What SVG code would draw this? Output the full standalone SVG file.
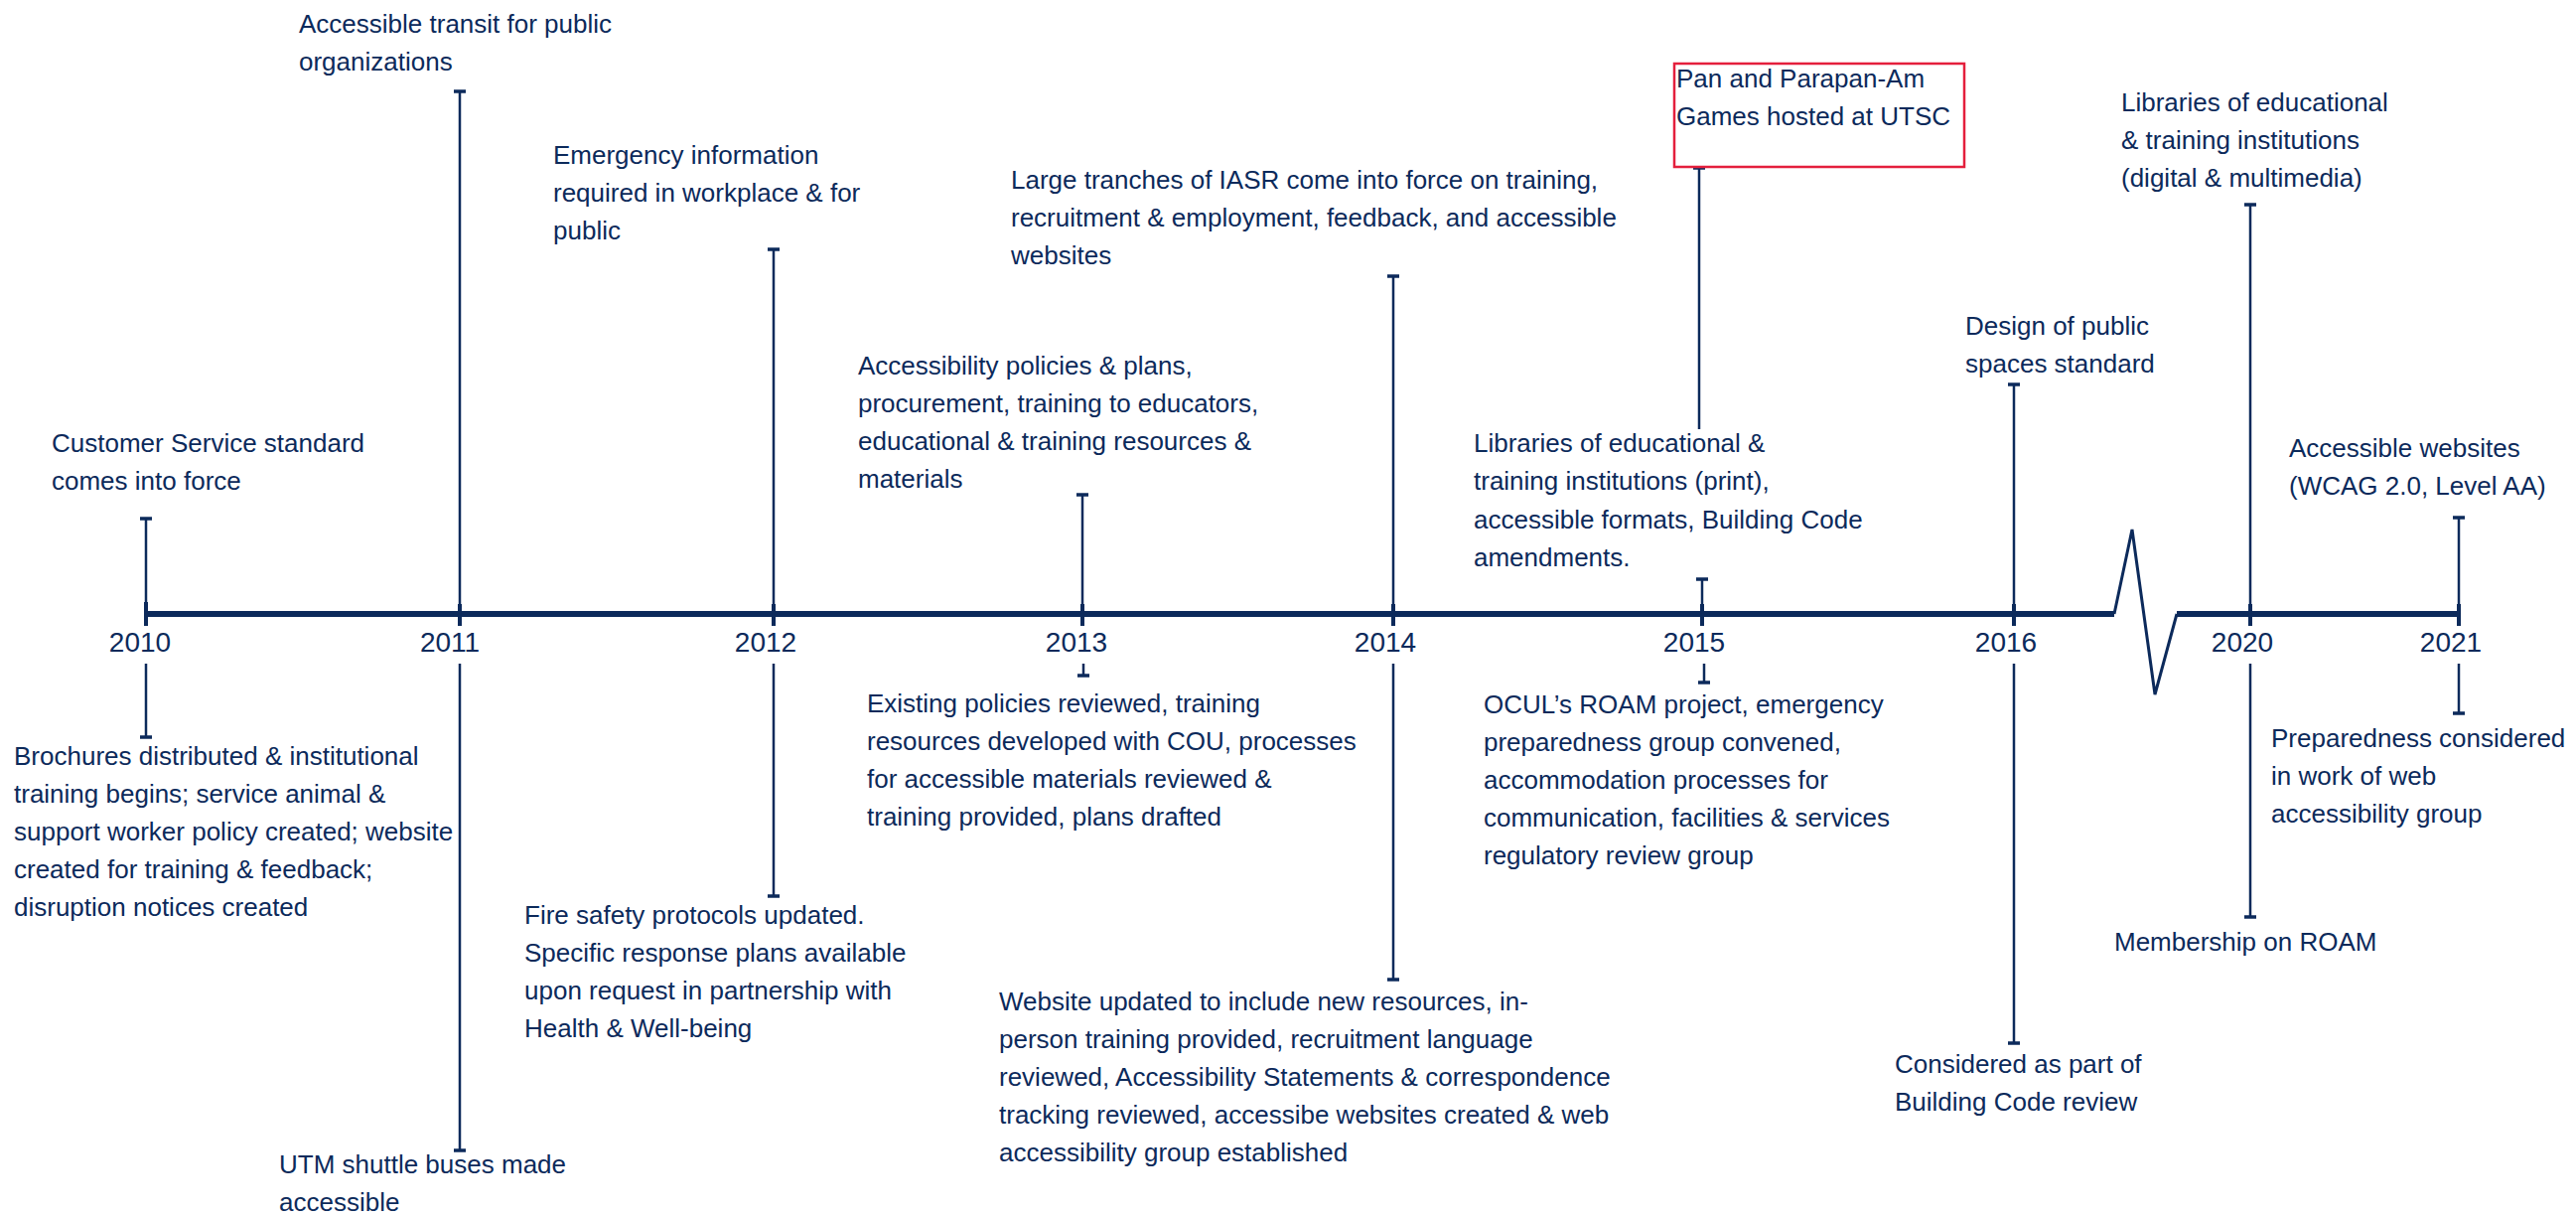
<svg xmlns="http://www.w3.org/2000/svg" width="2594" height="1224" viewBox="0 0 2594 1224">
<style>
.t{font-family:"Liberation Sans",Arial,sans-serif;font-size:26px;fill:#0c2a5b}
.yr{font-family:"Liberation Sans",Arial,sans-serif;font-size:28px;fill:#0c2a5b;text-anchor:middle}
.stem{stroke:#0c2a5b;stroke-width:2.5;fill:none}
.bar{stroke:#0c2a5b;stroke-width:3.5;fill:none}
.axis{stroke:#0c2a5b;stroke-width:6;fill:none}
.tick{stroke:#0c2a5b;stroke-width:4;fill:none}
.brk{stroke:#0c2a5b;stroke-width:3;fill:none;stroke-linejoin:miter}
</style>
<rect width="2594" height="1224" fill="#ffffff"/>

<g id="axis">
  <line class="axis" x1="147" y1="618" x2="2129" y2="618"/>
  <polyline class="brk" points="2129,618 2147,533 2170,699 2192,618"/>
  <line class="axis" x1="2192" y1="618" x2="2476" y2="618"/>
  <g id="ticks">
    <line class="tick" x1="147" y1="606" x2="147" y2="630"/>
    <line class="tick" x1="463" y1="608" x2="463" y2="630"/>
    <line class="tick" x1="779" y1="608" x2="779" y2="630"/>
    <line class="tick" x1="1090" y1="608" x2="1090" y2="630"/>
    <line class="tick" x1="1403" y1="608" x2="1403" y2="630"/>
    <line class="tick" x1="1714" y1="608" x2="1714" y2="630"/>
    <line class="tick" x1="2028" y1="608" x2="2028" y2="630"/>
    <line class="tick" x1="2266" y1="608" x2="2266" y2="630"/>
    <line class="tick" x1="2476" y1="608" x2="2476" y2="630"/>
  </g>
  <g id="years">
    <text class="yr" x="141" y="656">2010</text>
    <text class="yr" x="453" y="656">2011</text>
    <text class="yr" x="771" y="656">2012</text>
    <text class="yr" x="1084" y="656">2013</text>
    <text class="yr" x="1395" y="656">2014</text>
    <text class="yr" x="1706" y="656">2015</text>
    <text class="yr" x="2020" y="656">2016</text>
    <text class="yr" x="2258" y="656">2020</text>
    <text class="yr" x="2468" y="656">2021</text>
  </g>
</g>

<g id="connectors">
  <!-- 2010 -->
  <line class="stem" x1="147" y1="522" x2="147" y2="618"/><line class="bar" x1="141" y1="522" x2="153" y2="522"/>
  <line class="stem" x1="147" y1="668" x2="147" y2="742"/><line class="bar" x1="141" y1="742" x2="153" y2="742"/>
  <!-- 2011 -->
  <line class="stem" x1="463" y1="92" x2="463" y2="618"/><line class="bar" x1="457" y1="92" x2="469" y2="92"/>
  <line class="stem" x1="463" y1="668" x2="463" y2="1158"/><line class="bar" x1="457" y1="1158" x2="469" y2="1158"/>
  <!-- 2012 -->
  <line class="stem" x1="779" y1="251" x2="779" y2="618"/><line class="bar" x1="773" y1="251" x2="785" y2="251"/>
  <line class="stem" x1="779" y1="668" x2="779" y2="902"/><line class="bar" x1="773" y1="902" x2="785" y2="902"/>
  <!-- 2013 -->
  <line class="stem" x1="1090" y1="498" x2="1090" y2="618"/><line class="bar" x1="1084" y1="498" x2="1096" y2="498"/>
  <line class="stem" x1="1091" y1="668" x2="1091" y2="680"/><line class="bar" x1="1085" y1="680" x2="1097" y2="680"/>
  <!-- 2014 -->
  <line class="stem" x1="1403" y1="278" x2="1403" y2="618"/><line class="bar" x1="1397" y1="278" x2="1409" y2="278"/>
  <line class="stem" x1="1403" y1="668" x2="1403" y2="986"/><line class="bar" x1="1397" y1="986" x2="1409" y2="986"/>
  <!-- 2015 -->
  <line class="stem" x1="1711" y1="169" x2="1711" y2="432"/><line class="bar" x1="1705" y1="169" x2="1717" y2="169"/>
  <line class="stem" x1="1714" y1="583" x2="1714" y2="618"/><line class="bar" x1="1708" y1="583" x2="1720" y2="583"/>
  <line class="stem" x1="1716" y1="668" x2="1716" y2="687"/><line class="bar" x1="1710" y1="687" x2="1722" y2="687"/>
  <!-- 2016 -->
  <line class="stem" x1="2028" y1="387" x2="2028" y2="618"/><line class="bar" x1="2022" y1="387" x2="2034" y2="387"/>
  <line class="stem" x1="2028" y1="668" x2="2028" y2="1050"/><line class="bar" x1="2022" y1="1050" x2="2034" y2="1050"/>
  <!-- 2020 -->
  <line class="stem" x1="2266" y1="206" x2="2266" y2="618"/><line class="bar" x1="2260" y1="206" x2="2272" y2="206"/>
  <line class="stem" x1="2266" y1="668" x2="2266" y2="923"/><line class="bar" x1="2260" y1="923" x2="2272" y2="923"/>
  <!-- 2021 -->
  <line class="stem" x1="2476" y1="521" x2="2476" y2="618"/><line class="bar" x1="2470" y1="521" x2="2482" y2="521"/>
  <line class="stem" x1="2476" y1="668" x2="2476" y2="718"/><line class="bar" x1="2470" y1="718" x2="2482" y2="718"/>
</g>

<g id="e2010-above"><text class="t"><tspan x="52" y="455">Customer Service standard</tspan><tspan x="52" y="493">comes into force</tspan></text></g>
<g id="e2010-below"><text class="t"><tspan x="14" y="770">Brochures distributed &amp; institutional</tspan><tspan x="14" y="808">training begins; service animal &amp;</tspan><tspan x="14" y="846">support worker policy created; website</tspan><tspan x="14" y="884">created for training &amp; feedback;</tspan><tspan x="14" y="922">disruption notices created</tspan></text></g>

<g id="e2011-above"><text class="t"><tspan x="301" y="33">Accessible transit for public</tspan><tspan x="301" y="71">organizations</tspan></text></g>
<g id="e2011-below"><text class="t"><tspan x="281" y="1181">UTM shuttle buses made</tspan><tspan x="281" y="1219">accessible</tspan></text></g>

<g id="e2012-above"><text class="t"><tspan x="557" y="165">Emergency information</tspan><tspan x="557" y="203">required in workplace &amp; for</tspan><tspan x="557" y="241">public</tspan></text></g>
<g id="e2012-below"><text class="t"><tspan x="528" y="930">Fire safety protocols updated.</tspan><tspan x="528" y="968">Specific response plans available</tspan><tspan x="528" y="1006">upon request in partnership with</tspan><tspan x="528" y="1044">Health &amp; Well-being</tspan></text></g>

<g id="e2013-above"><text class="t"><tspan x="864" y="377">Accessibility policies &amp; plans,</tspan><tspan x="864" y="415">procurement, training to educators,</tspan><tspan x="864" y="453">educational &amp; training resources &amp;</tspan><tspan x="864" y="491">materials</tspan></text></g>
<g id="e2013-below"><text class="t"><tspan x="873" y="717">Existing policies reviewed, training</tspan><tspan x="873" y="755">resources developed with COU, processes</tspan><tspan x="873" y="793">for accessible materials reviewed &amp;</tspan><tspan x="873" y="831">training provided, plans drafted</tspan></text></g>

<g id="e2014-above"><text class="t"><tspan x="1018" y="190">Large tranches of IASR come into force on training,</tspan><tspan x="1018" y="228">recruitment &amp; employment, feedback, and accessible</tspan><tspan x="1018" y="266">websites</tspan></text></g>
<g id="e2014-below"><text class="t"><tspan x="1006" y="1017">Website updated to include new resources, in-</tspan><tspan x="1006" y="1055">person training provided, recruitment language</tspan><tspan x="1006" y="1093">reviewed, Accessibility Statements &amp; correspondence</tspan><tspan x="1006" y="1131">tracking reviewed, accessibe websites created &amp; web</tspan><tspan x="1006" y="1169">accessibility group established</tspan></text></g>

<g id="e2015-panam">
  <rect x="1686" y="64" width="292" height="104" fill="none" stroke="#e41f3c" stroke-width="2.5"/>
  <text class="t"><tspan x="1688" y="88">Pan and Parapan-Am</tspan><tspan x="1688" y="126">Games hosted at UTSC</tspan></text>
</g>
<g id="e2015-above"><text class="t"><tspan x="1484" y="455">Libraries of educational &amp;</tspan><tspan x="1484" y="493">training institutions (print),</tspan><tspan x="1484" y="532">accessible formats, Building Code</tspan><tspan x="1484" y="570">amendments.</tspan></text></g>
<g id="e2015-below"><text class="t"><tspan x="1494" y="718">OCUL’s ROAM project, emergency</tspan><tspan x="1494" y="756">preparedness group convened,</tspan><tspan x="1494" y="794">accommodation processes for</tspan><tspan x="1494" y="832">communication, facilities &amp; services</tspan><tspan x="1494" y="870">regulatory review group</tspan></text></g>

<g id="e2016-above"><text class="t"><tspan x="1979" y="337">Design of public</tspan><tspan x="1979" y="375">spaces standard</tspan></text></g>
<g id="e2016-below"><text class="t"><tspan x="1908" y="1080">Considered as part of</tspan><tspan x="1908" y="1118">Building Code review</tspan></text></g>

<g id="e2020-above"><text class="t"><tspan x="2136" y="112">Libraries of educational</tspan><tspan x="2136" y="150">&amp; training institutions</tspan><tspan x="2136" y="188">(digital &amp; multimedia)</tspan></text></g>
<g id="e2020-below"><text class="t"><tspan x="2129" y="957">Membership on ROAM</tspan></text></g>

<g id="e2021-above"><text class="t"><tspan x="2305" y="460">Accessible websites</tspan><tspan x="2305" y="498">(WCAG 2.0, Level AA)</tspan></text></g>
<g id="e2021-below"><text class="t"><tspan x="2287" y="752">Preparedness considered</tspan><tspan x="2287" y="790">in work of web</tspan><tspan x="2287" y="828">accessibility group</tspan></text></g>
</svg>
